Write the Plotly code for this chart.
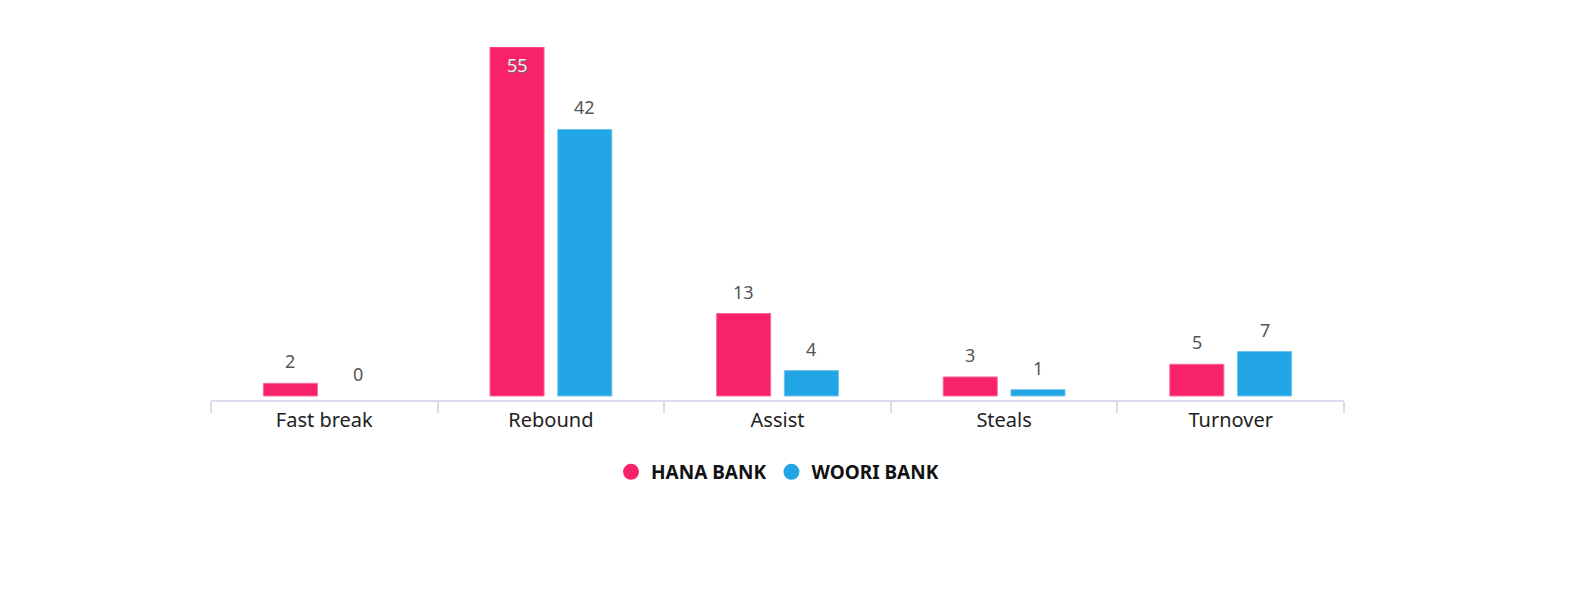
import plotly.graph_objects as go

categories = ["Fast break", "Rebound", "Assist", "Steals", "Turnover"]
hana_values = [2, 55, 13, 3, 5]
woori_values = [0, 42, 4, 1, 7]
series_names = ["HANA BANK", "WOORI BANK"]

HANA_COLOR = "#F8226A"
WOORI_COLOR = "#22A5E5"
FONT = "Noto Sans"

# page body has an 8px margin; compensate so the plot lands where intended
OFF = 8
W, H = 1595 - OFF, 592 - OFF
plot_left, plot_right = 211 - OFF, 1344 - OFF
plot_top, plot_bottom = 47 - OFF, 400 - OFF
base = 396 - OFF
y_max = max(hana_values + woori_values)
px_per_unit = (base - plot_top) / y_max
y_min = -(plot_bottom - base) / px_per_unit

fig = go.Figure()
for name, vals, col, line_col in [
    (series_names[0], hana_values, HANA_COLOR, "#FB6D97"),
    (series_names[1], woori_values, WOORI_COLOR, "#6EC3EE"),
]:
    fig.add_trace(go.Bar(
        x=categories, y=vals, name=name,
        marker=dict(color=col, line=dict(color=line_col,
                                         width=[0 if v == 0 else 1 for v in vals])),
        showlegend=False, hoverinfo="x+y",
    ))
    fig.add_trace(go.Scatter(
        x=[None], y=[None], mode="markers", name=name,
        marker=dict(symbol="circle", size=16, color=col),
        showlegend=True,
    ))

# value labels as annotations derived from the data
cat_px = (plot_right - plot_left) / len(categories)
bargap, bargroupgap = 0.402, 0.202
slot = cat_px * (1 - bargap) / 2
shifts = [-slot / 2, slot / 2]
annotations = []
for vals, xs in [(hana_values, shifts[0]), (woori_values, shifts[1])]:
    for c, v in zip(categories, vals):
        inside = v == y_max
        annotations.append(dict(
            x=c, y=v, xref="x", yref="y", text=str(v), showarrow=False,
            xshift=xs, yshift=-18 if inside else 22, yanchor="middle",
            font=dict(family=FONT, size=18,
                      color="#EDEDED" if inside else "#555555",
                      shadow="1px 1px 1px #666" if inside else "none"),
        ))

fig.update_layout(
    width=W, height=H,
    margin=dict(l=plot_left, r=W - plot_right, t=plot_top, b=H - plot_bottom),
    paper_bgcolor="white", plot_bgcolor="white",
    barmode="group", bargap=bargap, bargroupgap=bargroupgap,
    font=dict(family=FONT),
    annotations=annotations,
    legend=dict(orientation="h", x=0.5, xanchor="center", y=-0.204, yanchor="middle",
                font=dict(family=FONT, size=19, color="#111111", weight="bold"),
                itemsizing="trace", itemwidth=30, tracegroupgap=0),
    xaxis=dict(
        showline=True, linecolor="#D9DCEC", linewidth=1.5,
        ticks="outside", tickson="boundaries", ticklen=11, tickcolor="#D9DCEC",
        tickwidth=1.5, showgrid=False, tickfont=dict(family=FONT, size=20, color="#222222"),
        ticklabelstandoff=1, fixedrange=True,
    ),
    yaxis=dict(range=[y_min, y_max], showgrid=False, zeroline=False,
               showticklabels=False, visible=False, fixedrange=True),
)

fig.write_html("out.html")
